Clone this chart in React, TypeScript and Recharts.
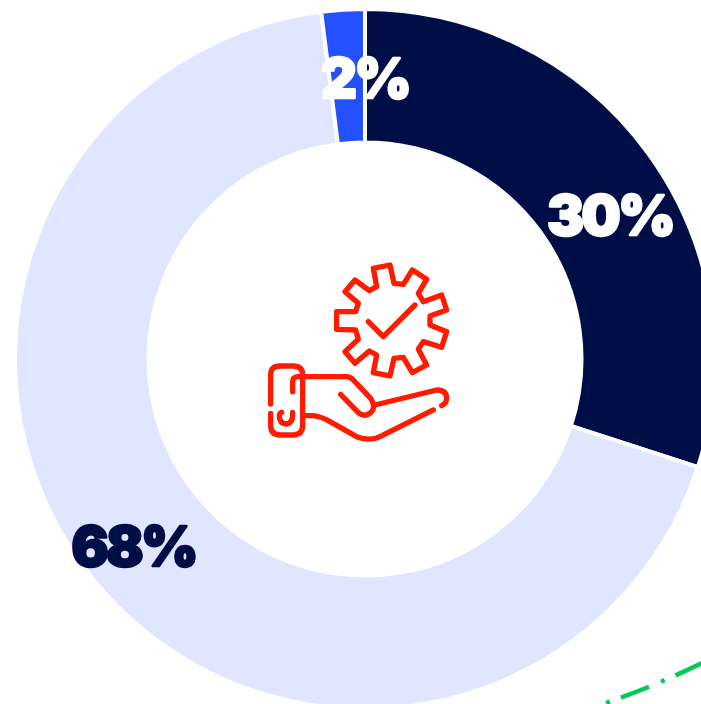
import React from 'react';
import { PieChart, Pie, Cell } from 'recharts';

const segments = ['Dark', 'Light', 'Blue'];
const shares = [30, 68, 2];
const sliceColors = ['#000E48', '#E0E6FF', '#2450FF'];
const labelColors = ['#FFFFFF', '#000E48', '#FFFFFF'];
const rows = segments.map((name, i) => ({ name, value: shares[i] }));

// The labels sit away from the slice mid-radius in the reference
const labelShift = [[16, 22], [-13, 6], [18, 2]];

const gear = 'M370,55 L420,45 L432,100 L460,103 L487,60 L530,88 L505,130 L520,155 L575,135 L590,180 L540,198 L540,225 L590,245 L575,292 L520,275 L505,298 L530,345 L487,368 L460,322 L432,325 L420,378 L370,368 L380,315 L358,303 L315,340 L285,305 L325,268 L317,240 L260,238 L260,185 L317,185 L325,160 L285,125 L315,90 L358,122 L380,110 Z';
const iconPaths = [
  gear,
  'M355,215 L400,260 L495,165',
  'M62,462 L62,375 Q62,348 90,348 L130,348 Q158,348 158,375 L158,525 Q158,555 130,555 L90,555 Q62,555 62,525 L62,490',
  'M128,425 L128,395 Q128,380 145,380 L290,380 Q300,380 310,390 L362,445 Q378,470 365,485 Q345,505 325,488 L272,433',
  'M375,465 L560,420 Q590,420 590,445 Q590,460 575,467',
  'M160,497 L190,497 Q215,500 240,515 L320,560 Q360,575 390,560 L550,480',
  'M128,487 Q130,520 108,522 Q88,520 88,498 Q88,490 95,487',
];

const RAD = Math.PI / 180;
const renderLabel = (p: any) => {
  const r = (p.innerRadius + p.outerRadius) / 2;
  const [dx, dy] = labelShift[p.index];
  const x = p.cx + r * Math.cos(-p.midAngle * RAD) + dx;
  const y = p.cy + r * Math.sin(-p.midAngle * RAD) + dy;
  const color = labelColors[p.index];
  return (
    <text
      x={x}
      y={y}
      textAnchor="middle"
      dominantBaseline="central"
      fill={color}
      stroke={color}
      strokeWidth={2.5}
      strokeLinejoin="round"
      fontFamily="Inter, sans-serif"
      fontWeight={900}
      fontSize={55}
      letterSpacing={-2.5}
    >
      {`${p.value}%`}
    </text>
  );
};

export default function App() {
  return (
    <div style={{ position: 'absolute', left: 0, top: 0, width: 701, height: 704, overflow: 'hidden', background: '#fff' }}>
      <PieChart width={701} height={704} margin={{ top: 0, right: 0, bottom: 0, left: 0 }}>
        <Pie
          data={rows}
          dataKey="value"
          nameKey="name"
          cx={365}
          cy={359}
          innerRadius={216.5}
          outerRadius={350}
          startAngle={90}
          endAngle={-270}
          stroke="#FFFFFF"
          strokeWidth={4}
          label={renderLabel}
          labelLine={false}
          isAnimationActive={false}
        >
          {rows.map((r, i) => (
            <Cell key={r.name} fill={sliceColors[i]} />
          ))}
        </Pie>
        <g transform="translate(250 250) scale(0.3333)" fill="none" stroke="#FF1A00" strokeWidth={16} strokeLinecap="round" strokeLinejoin="round">
          {iconPaths.map((d) => (
            <path key={d} d={d} />
          ))}
        </g>
        <path d="M606,703 Q655,686 704,662" fill="none" stroke="#00CC55" strokeWidth={4.5} strokeDasharray="4 12 30 13" />
      </PieChart>
    </div>
  );
}
